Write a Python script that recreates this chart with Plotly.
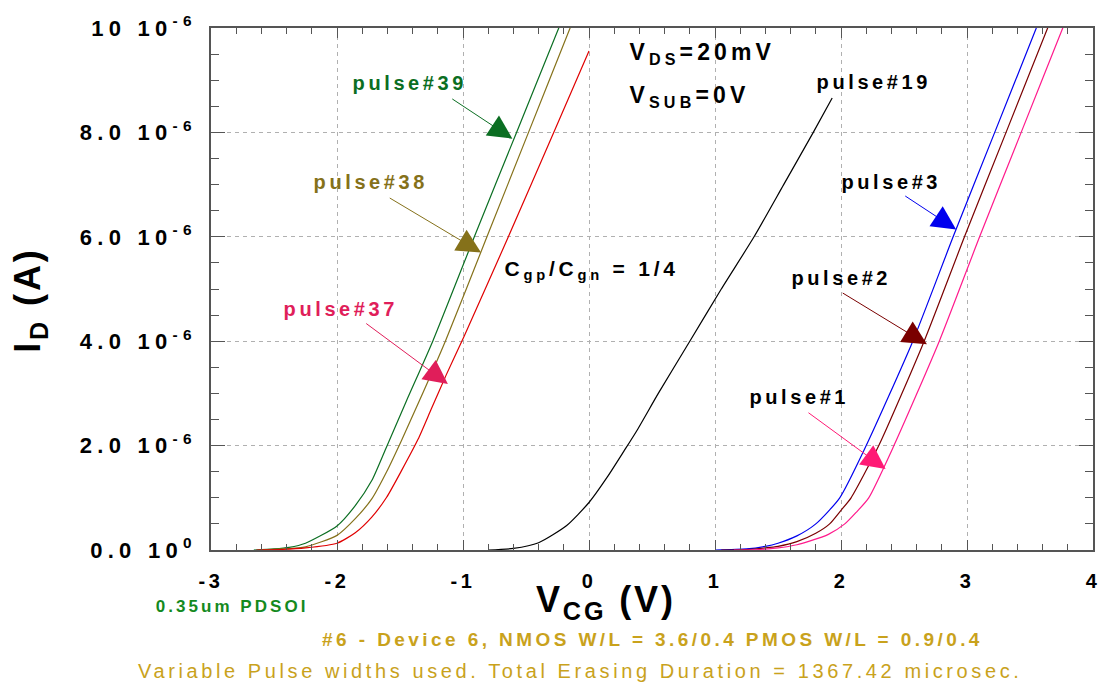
import plotly.graph_objects as go

# Transfer curves I_D vs V_CG after successive erase pulses (I_D in uA)
v_p39 = [-2.66, -2.5, -2.38, -2.25, -2.0, -1.855, -1.724, -1.606, -1.45, -1.24, -0.91, -0.575, -0.24, -0.2]
i_p39 = [0.0, 0.02, 0.05, 0.13, 0.46, 0.85, 1.33, 1.98, 2.85, 4.0, 6.0, 8.0, 10.0, 10.25]

v_p38 = [-2.62, -2.45, -2.25, -2.0, -1.855, -1.724, -1.606, -1.488, -1.357, -1.14, -0.81, -0.48, -0.15, -0.11]
i_p38 = [0.0, 0.02, 0.06, 0.28, 0.60, 0.98, 1.50, 2.10, 2.80, 4.0, 6.0, 8.0, 10.0, 10.25]

v_p37 = [-2.64, -2.45, -2.25, -2.0, -1.855, -1.724, -1.606, -1.488, -1.357, -1.252, -1.134, -0.99, -0.64, -0.28, 0.0]
i_p37 = [0.0, 0.01, 0.04, 0.13, 0.33, 0.63, 1.01, 1.52, 2.12, 2.70, 3.35, 4.10, 6.0, 8.0, 9.56]

v_p19 = [-0.8, -0.6, -0.4, -0.177, 0.0, 0.143, 0.276, 0.383, 0.55, 0.80, 1.05, 1.31, 1.545, 1.78, 1.93]
i_p19 = [0.0, 0.03, 0.14, 0.47, 0.91, 1.39, 1.89, 2.30, 3.0, 4.0, 5.0, 6.0, 7.0, 8.0, 8.66]

v_p3 = [1.0, 1.25, 1.4, 1.5, 1.65, 1.8, 1.99, 2.2, 2.57, 2.89, 3.22, 3.55, 3.59]
i_p3 = [0.0, 0.02, 0.07, 0.13, 0.27, 0.5, 1.0, 2.0, 4.0, 6.0, 8.0, 10.0, 10.25]

v_p2 = [1.05, 1.25, 1.4, 1.5, 1.65, 1.8, 1.91, 2.0, 2.08, 2.30, 2.66, 2.98, 3.31, 3.64, 3.68]
i_p2 = [0.0, 0.01, 0.04, 0.07, 0.16, 0.32, 0.5, 0.76, 1.0, 2.0, 4.0, 6.0, 8.0, 10.0, 10.25]

v_p1 = [1.15, 1.35, 1.5, 1.65, 1.75, 1.9, 2.03, 2.12, 2.22, 2.42, 2.78, 3.10, 3.43, 3.76, 3.80]
i_p1 = [0.0, 0.01, 0.04, 0.1, 0.17, 0.3, 0.5, 0.72, 1.0, 2.0, 4.0, 6.0, 8.0, 10.0, 10.25]

y_tickvals_uA = [0, 2, 4, 6, 8, 10]
y_ticktext = ["0.0 10<sup>0</sup>", "2.0 10<sup>-6</sup>", "4.0 10<sup>-6</sup>",
              "6.0 10<sup>-6</sup>", "8.0 10<sup>-6</sup>", "10 10<sup>-6</sup>"]
x_tickvals = [-3, -2, -1, 0, 1, 2, 3, 4]
x_ticktext = ["-3", "-2", "-1", "0", "1", "2", "3", "4"]

FONT = "Liberation Sans, Arial, Helvetica, sans-serif"

series = [
    (v_p39, i_p39, "#0b6e22", "pulse#39"),
    (v_p38, i_p38, "#85711a", "pulse#38"),
    (v_p37, i_p37, "#e00000", "pulse#37"),
    (v_p19, i_p19, "#000000", "pulse#19"),
    (v_p3, i_p3, "#0000ee", "pulse#3"),
    (v_p2, i_p2, "#7a0000", "pulse#2"),
    (v_p1, i_p1, "#ff1a8c", "pulse#1"),
]

fig = go.Figure()
for vx, iy, col, name in series:
    fig.add_trace(go.Scatter(
        x=vx, y=[v * 1e-6 for v in iy], mode="lines", name=name,
        line=dict(color=col, width=1.2, shape="spline", smoothing=0.6), showlegend=False,
    ))

axis_common = dict(
    showline=True, linecolor="#555555", linewidth=1.5, mirror="allticks",
    ticks="inside", tickcolor="#555555", tickwidth=1.2,
    showgrid=True, gridcolor="#b0b0b0", gridwidth=1, griddash="4px,4px",
    zeroline=False,
)

fig.update_xaxes(
    range=[-3, 4], tickvals=x_tickvals, ticktext=x_ticktext, ticklen=10, ticklabelstandoff=12,
    tickfont=dict(family=FONT, size=20, color="#000000", weight="bold"),
    minor=dict(dtick=0.2, ticks="inside", ticklen=6, tickcolor="#555555", showgrid=False),
    **axis_common,
)
fig.update_yaxes(
    range=[0, 10e-6], tickvals=[v * 1e-6 for v in y_tickvals_uA], ticktext=y_ticktext,
    ticklen=14, ticklabelstandoff=8,
    tickfont=dict(family=FONT, size=22, color="#000000", weight="bold"),
    minor=dict(dtick=0.5e-6, ticks="inside", ticklen=8, tickcolor="#555555", showgrid=False),
    **axis_common,
)

annotations = []

def label(x, y, text, color, size=20):
    annotations.append(dict(
        x=x, y=y * 1e-6, xref="x", yref="y", text=text, showarrow=False,
        xanchor="center", yanchor="middle",
        font=dict(family=FONT, size=size, color=color, weight="bold"),
    ))

def arrow(x_tail, y_tail, x_tip, y_tip, color):
    annotations.append(dict(
        x=x_tip, y=y_tip * 1e-6, ax=x_tail, ay=y_tail * 1e-6,
        xref="x", yref="y", axref="x", ayref="y", text="",
        showarrow=True, arrowhead=2, arrowsize=4.8, arrowwidth=1,
        arrowcolor=color, standoff=0, startstandoff=0,
    ))

label(-1.42, 8.94, "pulse#39", "#0b6e22")
arrow(-1.097, 8.66, -0.608, 7.88, "#0b6e22")
label(-1.73, 7.05, "pulse#38", "#85711a")
arrow(-1.593, 6.76, -0.857, 5.70, "#85711a")
label(-1.97, 4.62, "pulse#37", "#e01e5a")
arrow(-1.78, 4.36, -1.12, 3.18, "#e01e5a")
label(2.26, 8.96, "pulse#19", "#000000")
label(2.40, 7.05, "pulse#3", "#000000")
arrow(2.498, 6.80, 2.914, 6.14, "#0000ee")
label(2.00, 5.21, "pulse#2", "#000000")
arrow(2.002, 4.94, 2.682, 3.94, "#7a0000")
label(1.67, 2.94, "pulse#1", "#000000")
arrow(1.73, 2.65, 2.354, 1.55, "#ff1a75")

label(0.90, 9.52, "V<sub>DS</sub>=20mV", "#000000", size=23)
label(0.80, 8.69, "V<sub>SUB</sub>=0V", "#000000", size=23)
label(0.02, 5.36, "C<sub>gp</sub>/C<sub>gn</sub> = 1/4", "#000000", size=21)

# Axis titles and footnotes placed in paper coordinates
annotations.append(dict(
    x=-0.205, y=0.479, xref="paper", yref="paper", text="I<sub>D</sub> (A)", showarrow=False,
    textangle=-90, xanchor="center", yanchor="middle",
    font=dict(family=FONT, size=36, color="#000000", weight="bold"),
))
annotations.append(dict(
    x=0.448, y=-0.099, xref="paper", yref="paper", text="V<sub>CG</sub> (V)", showarrow=False,
    xanchor="center", yanchor="middle",
    font=dict(family=FONT, size=36, color="#000000", weight="bold"),
))
annotations.append(dict(
    x=0.024, y=-0.108, xref="paper", yref="paper", text="0.35um PDSOI", showarrow=False,
    xanchor="center", yanchor="middle",
    font=dict(family=FONT, size=17, color="#148a1e", weight="bold"),
))
annotations.append(dict(
    x=0.501, y=-0.172, xref="paper", yref="paper",
    text="#6 - Device 6, NMOS W/L = 3.6/0.4 PMOS W/L = 0.9/0.4", showarrow=False,
    xanchor="center", yanchor="middle",
    font=dict(family=FONT, size=19, color="#c9a21c", weight="bold"),
))
annotations.append(dict(
    x=0.418, y=-0.231, xref="paper", yref="paper",
    text="Variable Pulse widths used. Total Erasing Duration = 1367.42 microsec.", showarrow=False,
    xanchor="center", yanchor="middle",
    font=dict(family=FONT, size=20, color="#c9a21c"),
))

fig.update_layout(
    width=1111, height=689,
    margin=dict(l=211, r=18, t=22, b=139),
    paper_bgcolor="#ffffff", plot_bgcolor="#ffffff",
    annotations=annotations,
)

# Widen the letter spacing of the drawn text (tighter on the large titles,
# wider on the y tick labels)
spacing_js = """
var gd = document.getElementById('{plot_id}');
gd.querySelectorAll('svg text').forEach(function(t){
  var s = t.textContent || '';
  var ls = '0.18em';
  if (s.indexOf('(A)') >= 0 || s.indexOf('(V)') >= 0) ls = '0.08em';
  else if (s.indexOf('Cgp') === 0) ls = '0.12em';
  else if (/^[0-9.]+ 10/.test(s)) ls = '0.24em';
  t.style.letterSpacing = ls;
});
"""

fig.write_html("out.html", post_script=spacing_js)
